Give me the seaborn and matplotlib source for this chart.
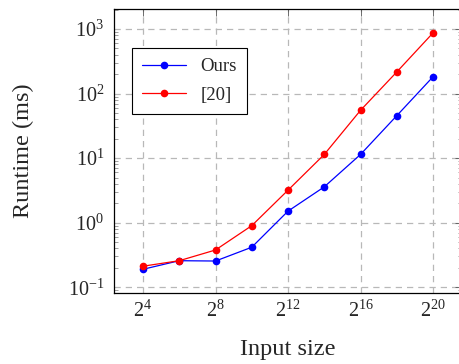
import numpy as np
import pandas as pd
import seaborn as sns
from matplotlib import pyplot as plt
from matplotlib import ticker

# input sizes as powers of two
exponents = [4, 6, 8, 10, 12, 14, 16, 18, 20]
ours_ms = [0.19, 0.258, 0.255, 0.417, 1.51, 3.59, 11.4, 45.4, 182]
ref20_ms = [0.212, 0.258, 0.378, 0.90, 3.19, 11.4, 55, 216, 870]
series_names = ["Ours", "[20]"]

sizes = [2 ** e for e in exponents]
df = pd.DataFrame({
    "size": sizes * 2,
    "runtime": ours_ms + ref20_ms,
    "method": [series_names[0]] * len(sizes) + [series_names[1]] * len(sizes),
})

sns.set_style("white")
plt.rcParams["font.family"] = ["Liberation Serif", "DejaVu Serif"]
plt.rcParams["mathtext.fontset"] = "custom"
plt.rcParams["mathtext.rm"] = "Liberation Serif"
plt.rcParams["mathtext.it"] = "Liberation Serif:italic"

fig = plt.figure(figsize=(4.59, 3.64), dpi=100)
# axes box in pixels: left 114, right ~462, top 9, bottom 292.7
ax = fig.add_axes([114 / 459, (364 - 292.7) / 364, (462 - 114) / 459, (292.7 - 9) / 364])

ax.grid(True, which="major", linestyle=(0, (5, 4)), color="#b8b8b8", linewidth=0.9)
ax.set_axisbelow(True)

sns.lineplot(data=df, x="size", y="runtime", hue="method", palette=["blue", "red"],
             marker="o", markersize=5.5, markeredgewidth=0, linewidth=0.9, ax=ax)

ax.set_xscale("log", base=2)
ax.set_yscale("log")
ax.set_xlim(2 ** 2.4, 2 ** 21.6)
ax.set_ylim(10 ** -1.084, 10 ** 3.31)

ax.set_xticks([2 ** e for e in [4, 8, 12, 16, 20]])
ax.xaxis.set_major_formatter(ticker.LogFormatterMathtext(base=2))
ax.xaxis.set_minor_locator(ticker.NullLocator())
ax.set_yticks([0.1, 1, 10, 100, 1000])
ax.yaxis.set_major_formatter(ticker.LogFormatterMathtext(base=10))
ax.yaxis.set_minor_locator(ticker.LogLocator(base=10, subs=np.arange(2, 10)))

ax.tick_params(axis="both", which="major", direction="in", length=5, width=0.6,
               top=True, right=True, labelsize=14.5, color="#555555")
ax.tick_params(axis="y", which="minor", direction="in", length=3, width=0.5,
               left=True, right=True, color="#777777")
ax.tick_params(axis="x", which="major", pad=6)
ax.tick_params(axis="y", which="major", pad=7)

for s in ax.spines.values():
    s.set_color("black")
    s.set_linewidth(0.9)

ax.set_xlabel("Input size", fontsize=17.5, labelpad=12)
ax.set_ylabel("Runtime (ms)", fontsize=17.5, labelpad=24)

leg = ax.legend(loc="upper left", bbox_to_anchor=(0.052, 0.863), fontsize=13.5,
                frameon=True, fancybox=False, edgecolor="black", framealpha=1,
                handlelength=2.3, borderpad=0.55, labelspacing=0.6, borderaxespad=0)
leg.get_frame().set_linewidth(0.8)
leg.set_title(None)

fig.savefig("out.png", dpi=100)
